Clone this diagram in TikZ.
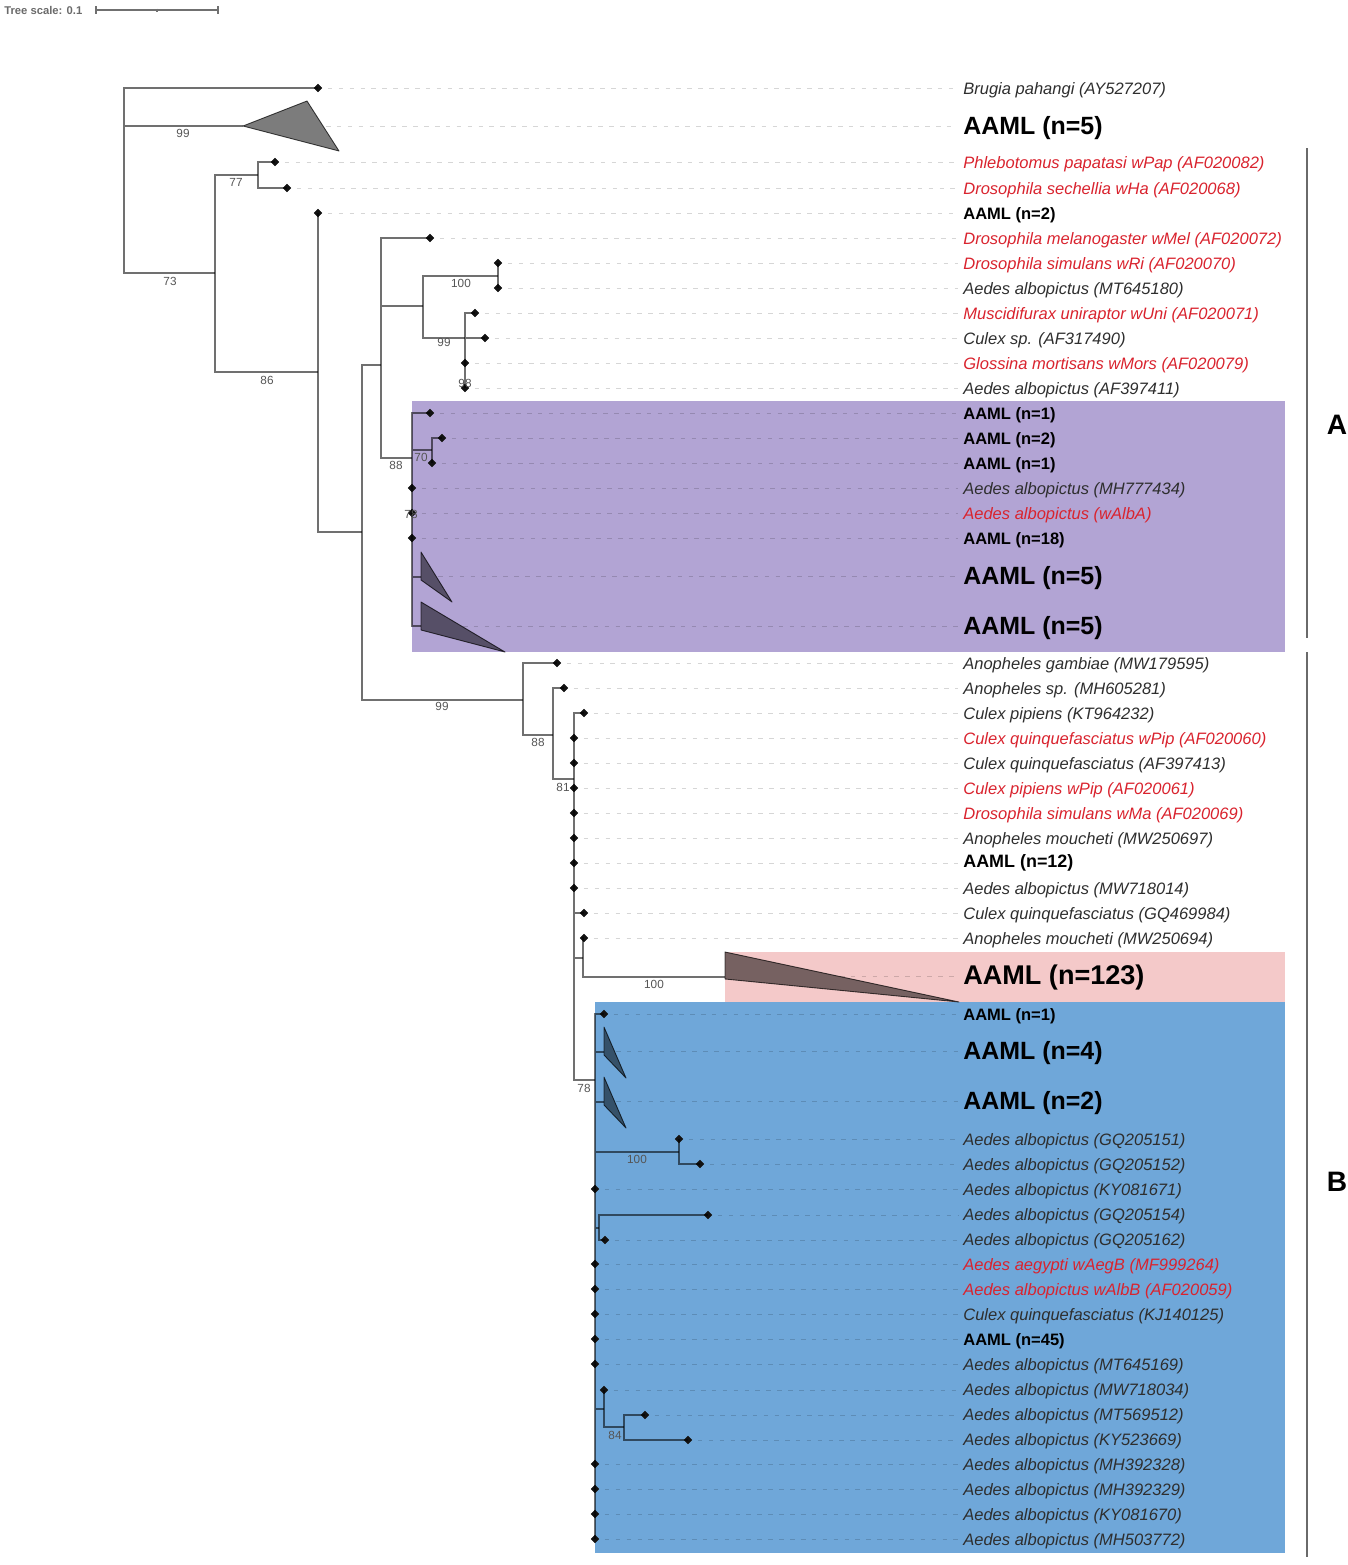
\documentclass[tikz,border=0pt]{standalone}
\usepackage{fontspec}
\setmainfont{Liberation Sans}
\usetikzlibrary{shapes.geometric}
\usetikzlibrary{positioning}
\definecolor{brgray}{HTML}{707070}
\definecolor{tipgray}{HTML}{454545}
\definecolor{guidegray}{HTML}{D6D6D6}
\definecolor{labgray}{HTML}{2E2E2E}
\definecolor{labred}{HTML}{D9232E}
\definecolor{bootgray}{HTML}{555555}
\definecolor{cladeedge}{HTML}{4A4A4A}
\definecolor{cladefill}{HTML}{7C7C7C}
\definecolor{purpleband}{HTML}{B2A4D4}
\definecolor{pinkband}{HTML}{F4C9C9}
\definecolor{blueband}{HTML}{6FA7D9}
\definecolor{sidegray}{HTML}{6A6A6A}
\begin{document}
\begin{tikzpicture}[x=0.02cm,y=-0.02cm,
	br/.style={draw=brgray,line width=0.8pt},
	tip/.style={diamond,fill=tipgray,minimum size=0.17cm,inner sep=0pt},
	guide/.style={draw=guidegray,line width=0.5pt,dash pattern=on 2.6pt off 3.6pt,shorten <=3pt,shorten >=3pt},
	lab/.style={anchor=west,inner sep=0pt,yshift=-0.035cm,font=\fontsize{9.4}{11}\selectfont\itshape,text=labgray},
	redlab/.style={lab,text=labred},
	aaml/.style={anchor=west,inner sep=0pt,yshift=-0.035cm,font=\fontsize{9.4}{11}\selectfont\bfseries,text=black},
	bigaaml/.style={aaml,font=\fontsize{14.2}{16}\selectfont\bfseries},
	boot/.style={font=\fontsize{6.7}{7}\selectfont,text=bootgray,inner sep=0pt},
	clade/.style={fill=cladefill,draw=cladeedge,line width=0.5pt,line join=round},
	sidebar/.style={draw=sidegray,line width=1.3pt},
	cladelab/.style={font=\fontsize{16}{18}\selectfont\bfseries}]
	\useasboundingbox (0,0) rectangle (1347,1565);
	% coloured bands
	\fill[purpleband] (412,401) rectangle (1285,652);
	\fill[pinkband] (725,952) rectangle (1285,1002);
	\fill[blueband] (595,1002) rectangle (1285,1553);
	% scale
	\node[anchor=west,inner sep=0pt,text=sidegray,font=\fontsize{6.4}{7}\selectfont\bfseries] (ts) at (4,10) {Tree scale: 0.1};
	\coordinate (sb0) at (96,10);
	\coordinate (sb1) at (218,10);
	\draw[brgray,line width=0.6pt] (sb0) -- (sb1) (96,6) -- (96,14) (218,6) -- (218,14) (157,8.5) -- (157,11.5);
	% labels
	\node[lab] (l1) at (963,88) {Brugia pahangi (AY527207)};
	\node[bigaaml] (l2) at (963,126) {AAML (n=5)};
	\node[redlab] (l3) at (963,162) {Phlebotomus papatasi wPap (AF020082)};
	\node[redlab] (l4) at (963,188) {Drosophila sechellia wHa (AF020068)};
	\node[aaml] (l5) at (963,213) {AAML (n=2)};
	\node[redlab] (l6) at (963,238) {Drosophila melanogaster wMel (AF020072)};
	\node[redlab] (l7) at (963,263) {Drosophila simulans wRi (AF020070)};
	\node[lab] (l8) at (963,288) {Aedes albopictus (MT645180)};
	\node[redlab] (l9) at (963,313) {Muscidifurax uniraptor wUni (AF020071)};
	\node[lab] (l10) at (963,338) {Culex sp. (AF317490)};
	\node[redlab] (l11) at (963,363) {Glossina mortisans wMors (AF020079)};
	\node[lab] (l12) at (963,388) {Aedes albopictus (AF397411)};
	\node[aaml] (l13) at (963,413) {AAML (n=1)};
	\node[aaml] (l14) at (963,438) {AAML (n=2)};
	\node[aaml] (l15) at (963,463) {AAML (n=1)};
	\node[lab] (l16) at (963,488) {Aedes albopictus (MH777434)};
	\node[redlab] (l17) at (963,513) {Aedes albopictus (wAlbA)};
	\node[aaml] (l18) at (963,538) {AAML (n=18)};
	\node[bigaaml] (l19) at (963,576) {AAML (n=5)};
	\node[bigaaml] (l20) at (963,626) {AAML (n=5)};
	\node[lab] (l21) at (963,663) {Anopheles gambiae (MW179595)};
	\node[lab] (l22) at (963,688) {Anopheles sp. (MH605281)};
	\node[lab] (l23) at (963,713) {Culex pipiens (KT964232)};
	\node[redlab] (l24) at (963,738) {Culex quinquefasciatus wPip (AF020060)};
	\node[lab] (l25) at (963,763) {Culex quinquefasciatus (AF397413)};
	\node[redlab] (l26) at (963,788) {Culex pipiens wPip (AF020061)};
	\node[redlab] (l27) at (963,813) {Drosophila simulans wMa (AF020069)};
	\node[lab] (l28) at (963,838) {Anopheles moucheti (MW250697)};
	\node[aaml,font=\fontsize{10.2}{12}\selectfont\bfseries] (l29) at (963,861) {AAML (n=12)};
	\node[lab] (l30) at (963,888) {Aedes albopictus (MW718014)};
	\node[lab] (l31) at (963,913) {Culex quinquefasciatus (GQ469984)};
	\node[lab] (l32) at (963,938) {Anopheles moucheti (MW250694)};
	\node[bigaaml,font=\fontsize{15.4}{17}\selectfont\bfseries] (l33) at (963,976) {AAML (n=123)};
	\node[aaml] (l34) at (963,1014) {AAML (n=1)};
	\node[bigaaml] (l35) at (963,1051) {AAML (n=4)};
	\node[bigaaml] (l36) at (963,1101) {AAML (n=2)};
	\node[lab] (l37) at (963,1139) {Aedes albopictus (GQ205151)};
	\node[lab] (l38) at (963,1164) {Aedes albopictus (GQ205152)};
	\node[lab] (l39) at (963,1189) {Aedes albopictus (KY081671)};
	\node[lab] (l40) at (963,1214) {Aedes albopictus (GQ205154)};
	\node[lab] (l41) at (963,1239) {Aedes albopictus (GQ205162)};
	\node[redlab] (l42) at (963,1264) {Aedes aegypti wAegB (MF999264)};
	\node[redlab] (l43) at (963,1289) {Aedes albopictus wAlbB (AF020059)};
	\node[lab] (l44) at (963,1314) {Culex quinquefasciatus (KJ140125)};
	\node[aaml] (l45) at (963,1339) {AAML (n=45)};
	\node[lab] (l46) at (963,1364) {Aedes albopictus (MT645169)};
	\node[lab] (l47) at (963,1389) {Aedes albopictus (MW718034)};
	\node[lab] (l48) at (963,1414) {Aedes albopictus (MT569512)};
	\node[lab] (l49) at (963,1439) {Aedes albopictus (KY523669)};
	\node[lab] (l50) at (963,1464) {Aedes albopictus (MH392328)};
	\node[lab] (l51) at (963,1489) {Aedes albopictus (MH392329)};
	\node[lab] (l52) at (963,1514) {Aedes albopictus (KY081670)};
	\node[lab] (l53) at (963,1539) {Aedes albopictus (MH503772)};
	% tips
	\node[tip] (t1) at (318,88) {};
	\node[tip] (t3) at (275,162) {};
	\node[tip] (t4) at (287,188) {};
	\node[tip] (t5) at (318,213) {};
	\node[tip] (t6) at (430,238) {};
	\node[tip] (t7) at (498,263) {};
	\node[tip] (t8) at (498,288) {};
	\node[tip] (t9) at (475,313) {};
	\node[tip] (t10) at (485,338) {};
	\node[tip] (t11) at (465,363) {};
	\node[tip] (t12) at (465,388) {};
	\node[tip] (t13) at (430,413) {};
	\node[tip] (t14) at (442,438) {};
	\node[tip] (t15) at (432,463) {};
	\node[tip] (t16) at (412,488) {};
	\node[tip] (t17) at (412,513) {};
	\node[tip] (t18) at (412,538) {};
	\node[tip] (t21) at (557,663) {};
	\node[tip] (t22) at (564,688) {};
	\node[tip] (t23) at (584,713) {};
	\node[tip] (t24) at (574,738) {};
	\node[tip] (t25) at (574,763) {};
	\node[tip] (t26) at (574,788) {};
	\node[tip] (t27) at (574,813) {};
	\node[tip] (t28) at (574,838) {};
	\node[tip] (t29) at (574,863) {};
	\node[tip] (t30) at (574,888) {};
	\node[tip] (t31) at (584,913) {};
	\node[tip] (t32) at (584,938) {};
	\node[tip] (t34) at (604,1014) {};
	\node[tip] (t37) at (679,1139) {};
	\node[tip] (t38) at (700,1164) {};
	\node[tip] (t39) at (595,1189) {};
	\node[tip] (t40) at (708,1215) {};
	\node[tip] (t41) at (605,1240) {};
	\node[tip] (t42) at (595,1264) {};
	\node[tip] (t43) at (595,1289) {};
	\node[tip] (t44) at (595,1314) {};
	\node[tip] (t45) at (595,1339) {};
	\node[tip] (t46) at (595,1364) {};
	\node[tip] (t47) at (604,1390) {};
	\node[tip] (t48) at (645,1415) {};
	\node[tip] (t49) at (688,1440) {};
	\node[tip] (t50) at (595,1464) {};
	\node[tip] (t51) at (595,1489) {};
	\node[tip] (t52) at (595,1514) {};
	\node[tip] (t53) at (595,1539) {};
	% collapsed clades
	\coordinate (c2) at (243,126);  \coordinate (e2) at (326,126);
	\coordinate (c19) at (421,577); \coordinate (e19) at (438,576);
	\coordinate (c20) at (421,626); \coordinate (e20) at (463,626);
	\coordinate (c33) at (725,977); \coordinate (e33) at (840,976);
	\coordinate (c35) at (604,1052); \coordinate (e35) at (616,1051);
	\coordinate (c36) at (604,1102); \coordinate (e36) at (616,1101);
	% inner nodes
	\coordinate (root) at (124,180);
	\coordinate (n215) at (215,273);
	\coordinate (n258) at (258,175);
	\coordinate (n318) at (318,372);
	\coordinate (n362) at (362,532);
	\coordinate (n381) at (381,365);
	\coordinate (n423) at (423,306);
	\coordinate (n498) at (498,276);
	\coordinate (n465) at (465,338);
	\coordinate (n412) at (412,458);
	\coordinate (n432) at (432,450);
	\coordinate (n523) at (523,700);
	\coordinate (n553) at (553,735);
	\coordinate (n574) at (574,779);
	\coordinate (n583) at (583,958);
	\coordinate (n595) at (595,1080);
	\coordinate (n679) at (679,1152);
	\coordinate (n599) at (599,1228);
	\coordinate (n604) at (604,1409);
	\coordinate (n624) at (624,1427);
	\begin{scope}[blend mode=multiply]
	\foreach \i in {1,3,4,5,6,7,8,9,10,11,12,13,14,15,16,17,18,21,22,23,24,25,26,27,28,29,30,31,32,34,37,38,39,40,41,42,43,44,45,46,47,48,49,50,51,52,53}
		\draw[guide] (t\i) -- (t\i -| l\i.west);
	\foreach \i in {2,19,20,33,35,36}
		\draw[guide,shorten <=0pt] (e\i) -- (e\i -| l\i.west);
	\draw[br] (root) |- (t1.center) (root) |- (c2) (root) |- (n215);
	\draw[br] (n215) |- (n258) (n215) |- (n318);
	\draw[br] (n258) |- (t3.center) (n258) |- (t4.center);
	\draw[br] (n318) |- (t5.center) (n318) |- (n362);
	\draw[br] (n362) |- (n381) (n362) |- (n523);
	\draw[br] (n381) |- (t6.center) (n381) |- (n423) (n381) |- (n412);
	\draw[br] (n423) |- (n498) (n423) |- (n465);
	\draw[br] (n498) |- (t7.center) (n498) |- (t8.center);
	\draw[br] (n465) |- (t9.center) (n465) |- (t10.center) (n465) |- (t12.center);
	\draw[br] (n412) |- (t13.center) (n412) |- (n432) (n412) |- (c19) (n412) |- (c20);
	\draw[br] (n432) |- (t14.center) (n432) |- (t15.center);
	\draw[br] (n523) |- (t21.center) (n523) |- (n553);
	\draw[br] (n553) |- (t22.center) (n553) |- (n574);
	\draw[br] (n574) |- (t23.center) (n574) |- (t31.center) (n574) |- (n583) (n574) |- (n595);
	\draw[br] (n583) |- (t32.center) (n583) |- (c33);
	\draw[br] (n595) |- (t34.center) (n595) |- (c35) (n595) |- (c36) (n595) |- (n679) (n595) |- (n599) (n595) |- (n604) (n595) |- (t53.center);
	\draw[br] (n679) |- (t37.center) (n679) |- (t38.center);
	\draw[br] (n599) |- (t40.center) (n599) |- (t41.center);
	\draw[br] (n604) |- (t47.center) (n604) |- (n624);
	\draw[br] (n624) |- (t48.center) (n624) |- (t49.center);
	\draw[clade] (c2) -- (307,101) -- (339,151) -- cycle;
	\draw[clade] (421,552) -- (452,602) -- (421,580) -- cycle;
	\draw[clade] (421,602) -- (505,652) -- (421,630) -- cycle;
	\draw[clade] (725,952) -- (959,1002) -- (725,979) -- cycle;
	\draw[clade] (604,1027) -- (626,1078) -- (604,1055) -- cycle;
	\draw[clade] (604,1077) -- (626,1128) -- (604,1105) -- cycle;
	\foreach \i in {1,3,4,5,6,7,8,9,10,11,12,13,14,15,16,17,18,21,22,23,24,25,26,27,28,29,30,31,32,34,37,38,39,40,41,42,43,44,45,46,47,48,49,50,51,52,53}
		\node[tip] at (t\i) {};
	\end{scope}
	% support values
	\node[boot] (b1) at (183,133) {99};
	\node[boot] (b2) at (170,281) {73};
	\node[boot] (b3) at (236,182) {77};
	\node[boot] (b4) at (267,380) {86};
	\node[boot] (b5) at (461,283) {100};
	\node[boot] (b6) at (444,342) {99};
	\node[boot] (b7) at (465,383) {98};
	\node[boot] (b8) at (396,465) {88};
	\node[boot] (b9) at (421,457) {70};
	\node[boot] (b10) at (411,514) {78};
	\node[boot] (b11) at (442,706) {99};
	\node[boot] (b12) at (538,742) {88};
	\node[boot] (b13) at (563,787) {81};
	\node[boot] (b14) at (654,984) {100};
	\node[boot] (b15) at (584,1088) {78};
	\node[boot] (b16) at (637,1159) {100};
	\node[boot] (b17) at (615,1435) {84};
	% clades A and B
	\coordinate (A0) at (1307,148);
	\coordinate (A1) at (1307,638);
	\coordinate (B0) at (1307,652);
	\coordinate (B1) at (1307,1557);
	\draw[sidebar] (A0) -- (A1);
	\draw[sidebar] (B0) -- (B1);
	\node[cladelab] (A) at (1337,425) {A};
	\node[cladelab] (B) at (1337,1182) {B};
\end{tikzpicture}
\end{document}
